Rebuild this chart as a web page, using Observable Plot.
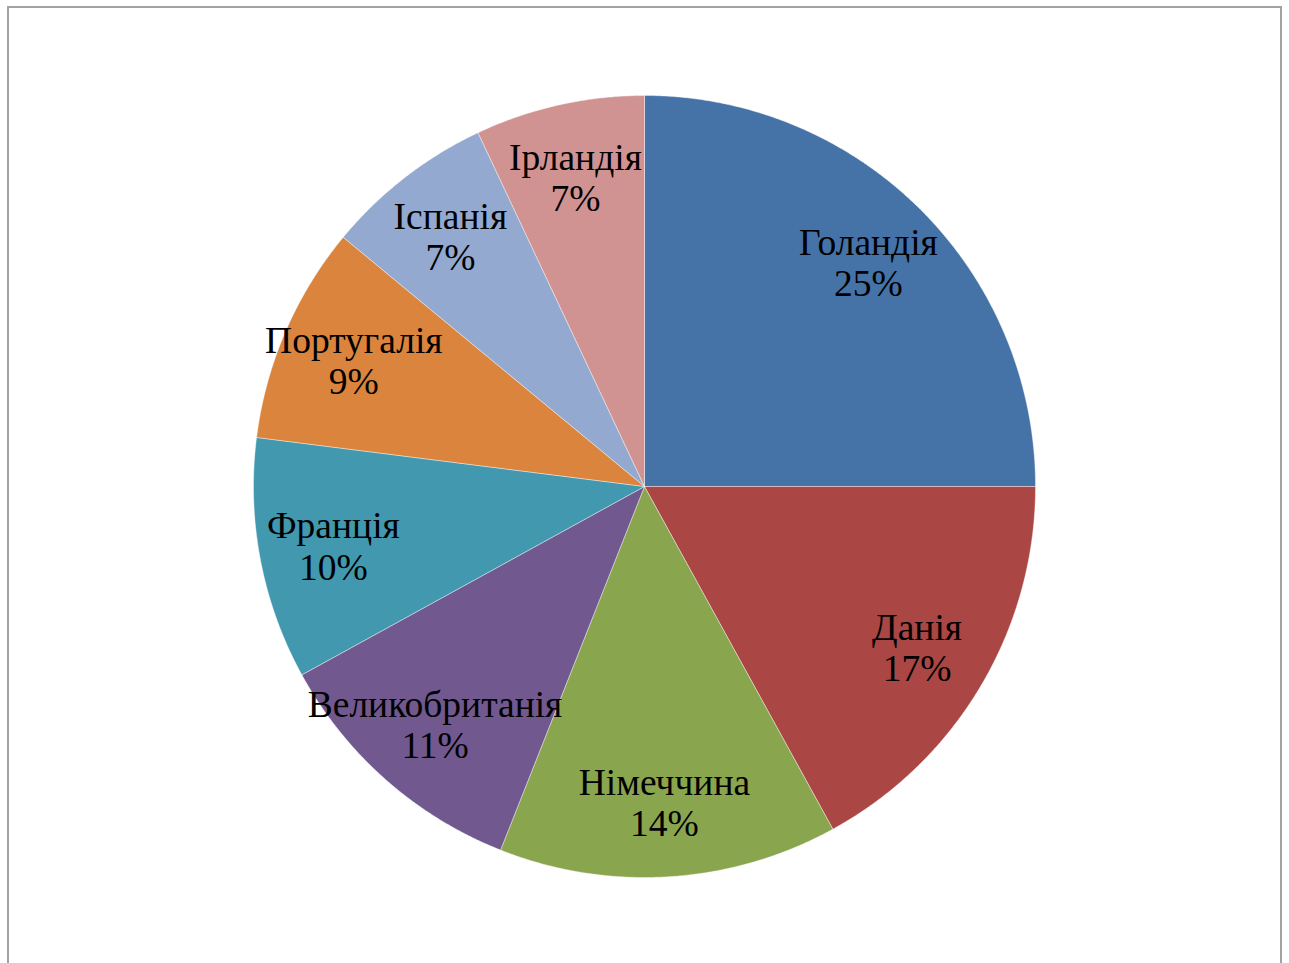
<!DOCTYPE html>
<html lang="uk">
<head>
<meta charset="utf-8">
<script src="https://cdn.jsdelivr.net/npm/d3@7"></script>
<script src="https://cdn.jsdelivr.net/npm/@observablehq/plot@0.6"></script>
<style>
  html, body { margin: 0; padding: 0; background: #fff; overflow: hidden; }
  #frame {
    position: absolute; left: 7px; top: 6px;
    width: 1271px; height: 1000px;
    border: 2px solid #a2a2a2;
    box-sizing: content-box;
  }
  #chart { position: absolute; left: 0; top: 0; }
</style>
</head>
<body>
<div id="frame"></div>
<div id="chart"></div>
<script>
// Shares of the market by country (percent)
const countries = ["Голандія", "Данія", "Німеччина", "Великобританія", "Франція", "Португалія", "Іспанія", "Ірландія"];
const shares = [25, 17, 14, 11, 10, 9, 7, 7];
const sliceColors = ["#4572A7", "#AA4643", "#89A54E", "#71588F", "#4198AF", "#DB843D", "#93A9CF", "#D19392"];

// Slice angles, clockwise from twelve o'clock, in the given order
const arcs = d3.pie().sort(null).value(d => d.share)(
  countries.map((name, i) => ({name, share: shares[i]}))
);

// Each slice as a closed outline in unit-circle coordinates (y up)
const outline = arcs.flatMap(a => {
  const n = Math.max(2, Math.ceil((a.endAngle - a.startAngle) / 0.005));
  const pts = [{name: a.data.name, x: 0, y: 0}];
  for (let k = 0; k <= n; ++k) {
    const t = a.startAngle + (a.endAngle - a.startAngle) * k / n;
    pts.push({name: a.data.name, x: Math.sin(t), y: Math.cos(t)});
  }
  pts.push({name: a.data.name, x: 0, y: 0});
  return pts;
});

// Labels sit inside each slice along its middle angle
const labelRadius = 0.81;
const labels = arcs.map(a => {
  const m = (a.startAngle + a.endAngle) / 2;
  return {
    x: labelRadius * Math.sin(m),
    y: labelRadius * Math.cos(m),
    text: `${a.data.name}\n${Math.round(a.data.share)}%`
  };
});

const W = 1289, H = 963;
const chart = Plot.plot({
  width: W,
  height: H,
  marginLeft: 253,
  marginRight: W - 253 - 782,
  marginTop: 95,
  marginBottom: H - 95 - 782,
  x: {domain: [-1, 1], axis: null},
  y: {domain: [-1, 1], axis: null},
  color: {domain: countries, range: sliceColors},
  style: {background: "transparent", overflow: "visible"},
  marks: [
    Plot.line(outline, {x: "x", y: "y", z: "name", fill: "name", stroke: "#ffffff", strokeWidth: 0.8, strokeOpacity: 0.5, curve: "linear"}),
    Plot.text(labels, {
      x: "x", y: "y", text: "text",
      fontFamily: "'Liberation Serif', 'Times New Roman', serif",
      fontSize: 37.5, lineHeight: 1.095, fill: "#000"
    })
  ]
});
document.getElementById("chart").append(chart);
</script>
</body>
</html>
